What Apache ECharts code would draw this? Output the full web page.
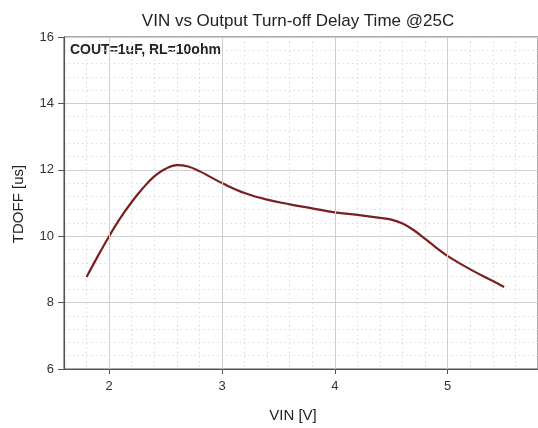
<!DOCTYPE html>
<html>
<head>
<meta charset="utf-8">
<script src="https://cdn.jsdelivr.net/npm/echarts@6/dist/echarts.min.js"></script>
<style>html,body{margin:0;padding:0;background:#fff}#c{width:538px;height:428px}</style>
</head>
<body>
<div id="c"></div>
<script>
var vin   = [1.8, 1.9, 2.0, 2.1, 2.2, 2.3, 2.4, 2.5, 2.6, 2.7, 2.8, 2.9, 3.0, 3.2, 3.4, 3.6, 3.8, 4.0, 4.2, 4.4, 4.5, 4.6, 4.7, 4.8, 4.9, 5.0, 5.2, 5.4, 5.5];
var tdoff = [8.77, 9.4, 10.0, 10.55, 11.03, 11.45, 11.8, 12.03, 12.14, 12.1, 11.96, 11.78, 11.6, 11.3, 11.1, 10.96, 10.84, 10.72, 10.64, 10.55, 10.5, 10.38, 10.18, 9.92, 9.65, 9.4, 9.0, 8.65, 8.47];
var xTicks = [2, 3, 4, 5];
var titleText = 'VIN vs Output Turn-off Delay Time @25C';
var noteText = 'COUT=1uF, RL=10ohm';
var xName = 'VIN [V]';
var yName = 'TDOFF [us]';

var data = vin.map(function (v, i) { return [v, tdoff[i]]; });
var font = 'Liberation Sans, Arial, sans-serif';
var chart = echarts.init(document.getElementById('c'));
chart.setOption({
  animation: false,
  textStyle: { fontFamily: font },
  title: { text: titleText, left: 293, top: 8, textAlign: 'center',
    textStyle: { fontSize: 17, fontWeight: 'normal', color: '#222', fontFamily: font } },
  grid: { left: 64, right: -14, top: 37, bottom: 59, show: true, borderColor: '#555', borderWidth: 1, containLabel: false },
  xAxis: [
    { type: 'value', min: 1.6, max: 5.8, interval: 0.2, show: true,
      axisLine: { show: false }, axisTick: { show: false }, axisLabel: { show: false },
      splitLine: { show: true, lineStyle: { color: '#dadada', type: [1.5, 3], width: 1 } } },
    { type: 'value', min: 1.6, max: 5.8, position: 'bottom',
      axisLine: { show: true, onZero: false, lineStyle: { color: '#555', width: 1.2 } },
      axisTick: { show: true, length: 5, customValues: xTicks, lineStyle: { color: '#555' } },
      axisLabel: { show: true, customValues: xTicks, margin: 11, fontSize: 13, color: '#333', fontFamily: font },
      splitLine: { show: false } }
  ],
  yAxis: { type: 'value', min: 6, max: 16, interval: 2,
    axisLine: { show: true, lineStyle: { color: '#555', width: 1.2 } },
    axisTick: { show: true, length: 6, lineStyle: { color: '#555' } },
    axisLabel: { margin: 10, fontSize: 13, color: '#333', fontFamily: font },
    splitLine: { show: true, lineStyle: { color: '#cfcfcf', width: 1 } },
    minorTick: { show: false, splitNumber: 5 },
    minorSplitLine: { show: true, lineStyle: { color: '#dadada', type: [1.5, 3], width: 1 } } },
  graphic: [
    { type: 'text', left: 70, top: 43, style: { text: noteText, font: 'bold 14px ' + font, fill: '#222' } },
    { type: 'text', x: 293, y: 416, style: { text: xName, font: '15px ' + font, fill: '#222', align: 'center', verticalAlign: 'middle' } },
    { type: 'text', x: 19, y: 204, rotation: Math.PI / 2, style: { text: yName, font: '15px ' + font, fill: '#222', align: 'center', verticalAlign: 'middle' } }
  ],
  series: [
    { type: 'line', xAxisIndex: 1, data: data, z: 1, showSymbol: false, silent: true,
      lineStyle: { opacity: 0 },
      markLine: { silent: true, symbol: 'none', animation: false, label: { show: false },
        lineStyle: { color: '#cfcfcf', type: 'solid', width: 1 },
        data: xTicks.map(function (t) { return { xAxis: t }; }) } },
    { type: 'line', xAxisIndex: 1, data: data, z: 3, smooth: 0.4, showSymbol: false,
      lineStyle: { color: '#7a1e1e', width: 2.2 } }
  ]
});
</script>
</body>
</html>
